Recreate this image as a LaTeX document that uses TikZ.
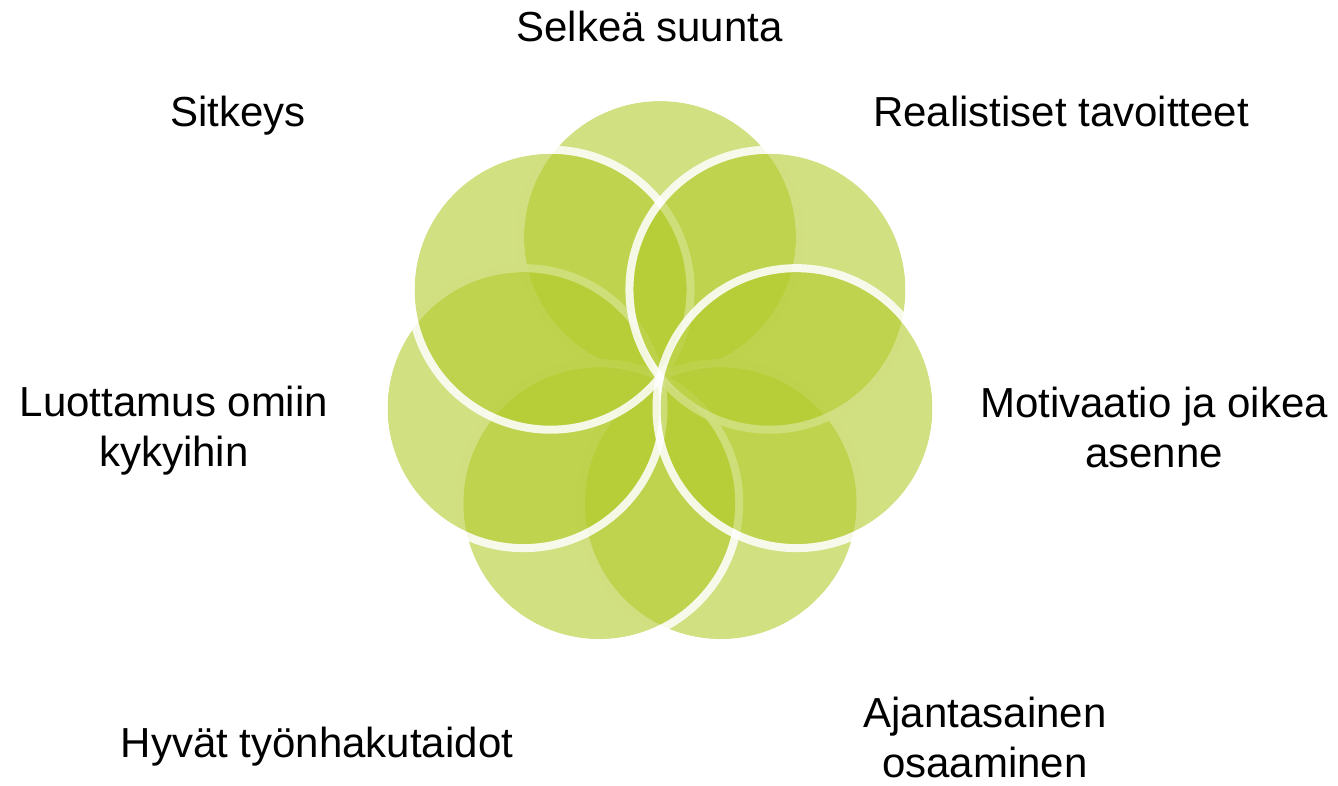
\documentclass[tikz,border=0pt]{standalone}
\usepackage{fontspec}
\setmainfont{Liberation Sans}
\usetikzlibrary{calc}
\definecolor{petalgreen}{RGB}{179,203,44}
\begin{document}
\begin{tikzpicture}[x=0.5pt,y=-0.5pt,
  petal/.style={fill=petalgreen, fill opacity=0.6},
  ring/.style={draw=white, draw opacity=0.85, line width=4pt},
  lbl/.style={font=\fontsize{21}{25}\selectfont, inner sep=0pt, align=center, text=black}]
\useasboundingbox (0,0) rectangle (1338,786);
\coordinate (C) at (660,377);
% angles measured counter-clockwise on screen (y axis points down, hence the minus sign)
% each disc carries a white outline just outside its fill
\foreach \name/\ang in {T/90, BR/295.714, BL/244.286, L/192.857, TL/141.429, TR/38.571, R/347.143} {
  \coordinate (c\name) at ($(C)+(-\ang:140)$);
  \fill[petal] (c\name) circle[radius=68pt];
  \draw[ring] (c\name) circle[radius=70pt];
}
\node[lbl, anchor=base] (selkea) at (649.5,41.7) {Selkeä suunta};
\node[lbl, anchor=base] (sitkeys) at (238,127) {Sitkeys};
\node[lbl, anchor=base] (realist) at (1061,127) {Realistiset tavoitteet};
\node[lbl] (luott) at (174,431) {Luottamus omiin\\kykyihin};
\node[lbl] (motiv) at (1154,427) {Motivaatio ja oikea\\asenne};
\node[lbl, anchor=base] (hyvat) at (317,757) {Hyvät työnhakutaidot};
\node[lbl] (ajan) at (985,737) {Ajantasainen\\osaaminen};
\end{tikzpicture}
\end{document}
